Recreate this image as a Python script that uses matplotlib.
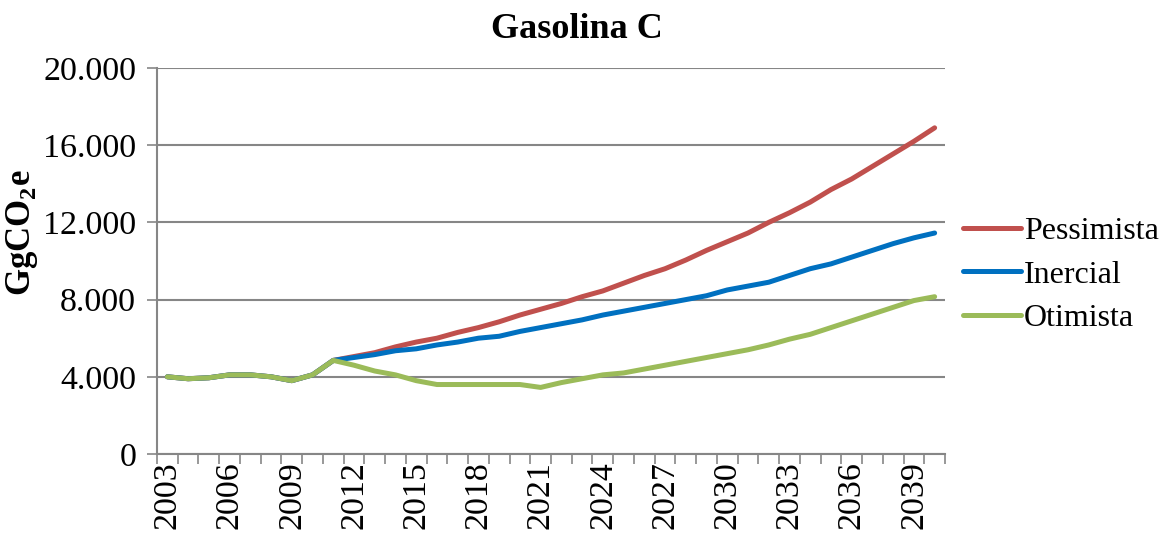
import matplotlib.pyplot as plt
from matplotlib.ticker import FuncFormatter, MultipleLocator
import numpy as np

plt.rcParams['font.family'] = ['Liberation Serif', 'DejaVu Serif']
plt.rcParams['mathtext.fontset'] = 'custom'
plt.rcParams['mathtext.rm'] = 'Liberation Serif'
plt.rcParams['mathtext.bf'] = 'Liberation Serif:bold'

# Data
years = list(range(2003, 2041))
pessimista = [4000, 3900, 3950, 4100, 4100, 4000, 3800, 4100, 4850,
              5050, 5250, 5550, 5800, 6000, 6300, 6550, 6850, 7200, 7500,
              7800, 8150, 8450, 8850, 9250, 9600, 10050, 10550, 11000, 11450,
              12000, 12500, 13050, 13700, 14250, 14900, 15550, 16200, 16900]
inercial = [4000, 3900, 3950, 4100, 4100, 4000, 3800, 4100, 4850,
            5000, 5150, 5350, 5450, 5650, 5800, 6000, 6100, 6350, 6550,
            6750, 6950, 7200, 7400, 7600, 7800, 8000, 8200, 8500, 8700,
            8900, 9250, 9600, 9850, 10200, 10550, 10900, 11200, 11450]
otimista = [4000, 3900, 3950, 4100, 4100, 4000, 3800, 4100, 4850,
            4600, 4300, 4100, 3800, 3600, 3600, 3600, 3600, 3600, 3450,
            3700, 3900, 4100, 4200, 4400, 4600, 4800, 5000, 5200, 5400,
            5650, 5950, 6200, 6550, 6900, 7250, 7600, 7950, 8150]

fig = plt.figure(figsize=(11.59, 5.35), dpi=100)
ax = fig.add_axes([157/1159, 1 - 454/535, (945 - 157)/1159, (454 - 68)/535])

x = np.arange(len(years))
ax.plot(x, pessimista, color='#C0504D', lw=3.6, label='Pessimista', solid_capstyle='round')
ax.plot(x, inercial, color='#0070C0', lw=3.6, label='Inercial', solid_capstyle='round')
ax.plot(x, otimista, color='#9BBB59', lw=3.6, label='Otimista', solid_capstyle='round')

ax.set_xlim(-0.5, len(years) - 0.5)
ax.set_ylim(0, 20000)
ax.yaxis.set_major_locator(MultipleLocator(4000))
ax.yaxis.set_major_formatter(FuncFormatter(lambda v, p: '0' if v == 0 else f'{int(v):,}'.replace(',', '.')))
ax.grid(axis='y', color='#868686', lw=1.5)
ax.set_axisbelow(True)

ax.set_xticks(x[::3])
ax.set_xticklabels([str(y) for y in years[::3]], rotation=90)
ax.set_xticks(np.arange(-0.5, len(years)), minor=True)
ax.tick_params(axis='x', which='major', length=0, labelsize=24.5, pad=5)
ax.tick_params(axis='x', which='minor', length=7, color='#868686', width=1.2)
ax.tick_params(axis='y', length=7, color='#868686', width=1.2, labelsize=24.5, pad=8)

for s in ['top', 'right']:
    ax.spines[s].set_visible(False)
for s in ['left', 'bottom']:
    ax.spines[s].set_color('#868686')
    ax.spines[s].set_linewidth(1.5)

fig.text(577/1159, 1 - 30/535, 'Gasolina C', fontsize=26, fontweight='bold',
         ha='center', va='center')
fig.text(22/1159, 1 - 233/535, 'GgCO$_\\mathbf{2}$e', fontsize=25, fontweight='bold',
         rotation=90, ha='center', va='center')

ax.legend(loc='center left', bbox_to_anchor=(963/1159, 1 - 275/535),
          bbox_transform=fig.transFigure, frameon=False, borderpad=0, borderaxespad=0,
          fontsize=23, handlelength=1.8, handletextpad=0.1, labelspacing=0.45)

fig.savefig('out.png', dpi=100)
